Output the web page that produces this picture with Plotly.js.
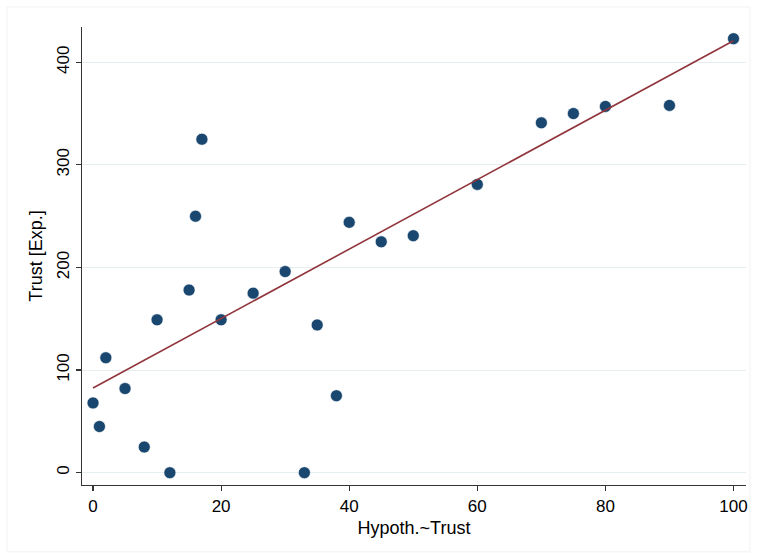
<!DOCTYPE html>
<html>
<head>
<meta charset="utf-8">
<script src="https://cdn.plot.ly/plotly-3.0.1.min.js"></script>
<style>
  html, body { margin: 0; padding: 0; background: #ffffff; }
  #chart { width: 757px; height: 555px; }
</style>
</head>
<body>
<div id="chart"></div>
<script>
// Scatter data: Hypoth. Trust (x) vs Trust [Exp.] (y)
const hypothTrust = [0, 1, 2, 5, 8, 10, 12, 15, 16, 17, 20, 25, 30, 33, 35, 38, 40, 45, 50, 60, 70, 75, 80, 90, 100];
const trustExp    = [68, 45, 112, 82, 25, 149, 0, 178, 250, 325, 149, 175, 196, 0, 144, 75, 244, 225, 231, 281, 341, 350, 357, 358, 423];

// Fitted line endpoints
const fitX = [0, 100];
const fitY = [82.5, 421];

const xTickVals = [0, 20, 40, 60, 80, 100];
const yTickVals = [0, 100, 200, 300, 400];

const traces = [
  {
    x: hypothTrust, y: trustExp,
    type: 'scatter', mode: 'markers',
    marker: { color: '#1a476f', size: 12, line: { color: '#ffffff', width: 0.6 } },
    hoverinfo: 'x+y', showlegend: false
  },
  {
    x: fitX, y: fitY,
    type: 'scatter', mode: 'lines',
    line: { color: '#90353b', width: 1.6 },
    showlegend: false
  }
];

const layout = {
  width: 757, height: 555,
  margin: { l: 82, r: 11, t: 27, b: 70 },
  paper_bgcolor: '#ffffff',
  plot_bgcolor: '#ffffff',
  font: { family: '"Liberation Sans", Arial, Helvetica, sans-serif', size: 17, color: '#000000' },
  showlegend: false,
  xaxis: {
    range: [-1.72, 101.95],
    tickvals: xTickVals,
    ticktext: xTickVals.map(String),
    showgrid: false, zeroline: false,
    showline: true, linecolor: '#333333', linewidth: 1.2,
    ticks: 'outside', ticklen: 5, tickcolor: '#333333', tickwidth: 1.2,
    tickfont: { size: 17 },
    title: { text: 'Hypoth.~Trust', font: { size: 18 }, standoff: 6 }
  },
  yaxis: {
    range: [-12, 434.4],
    tickvals: yTickVals,
    ticktext: yTickVals.map(String),
    tickangle: -90,
    showgrid: true, gridcolor: '#e6eef1', gridwidth: 1,
    zeroline: false,
    showline: true, linecolor: '#333333', linewidth: 1.2,
    ticks: 'outside', ticklen: 5, tickcolor: '#333333', tickwidth: 1.2,
    tickfont: { size: 17 },
    title: { text: 'Trust [Exp.]', font: { size: 18 }, standoff: 6 }
  },
  shapes: [
    {
      type: 'rect', xref: 'paper', yref: 'paper',
      x0: -0.113, x1: 1.006, y0: -0.146, y1: 1.0437,
      line: { color: '#eef2f4', width: 1 }, fillcolor: 'rgba(0,0,0,0)', layer: 'below'
    }
  ]
};

Plotly.newPlot('chart', traces, layout, { displayModeBar: false, staticPlot: true });
</script>
</body>
</html>
